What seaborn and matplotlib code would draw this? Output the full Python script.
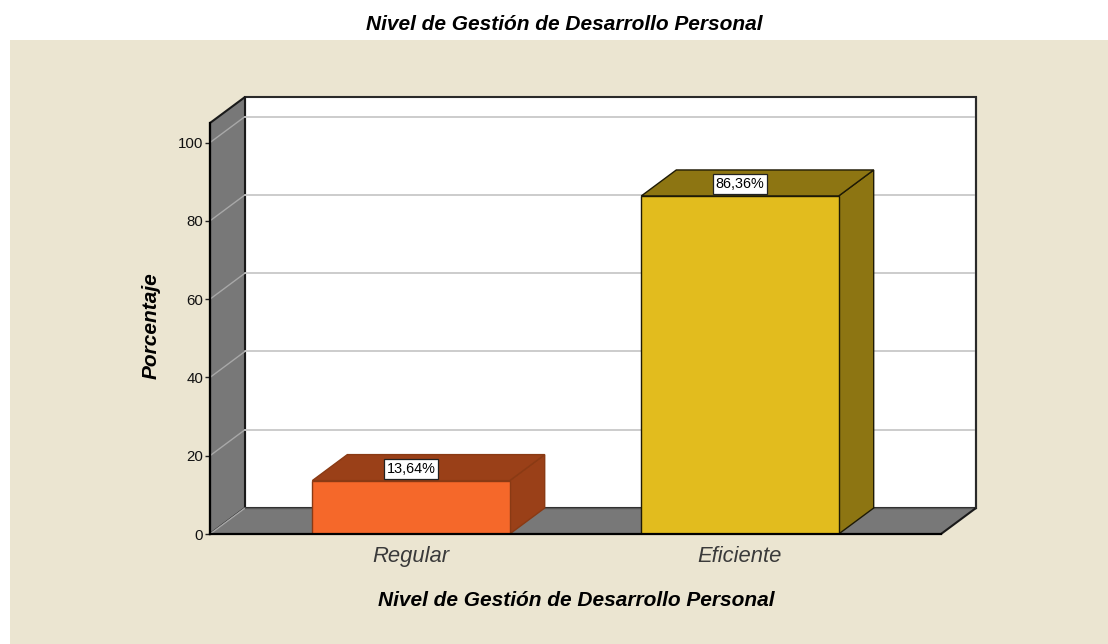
import pandas as pd
import matplotlib.pyplot as plt
import seaborn as sns
from matplotlib.patches import Polygon, Rectangle
from matplotlib.transforms import Affine2D

# values
niveles = ["Regular", "Eficiente"]
porcentajes = [13.64, 86.36]
etiquetas = ["13,64%", "86,36%"]
y_ticks = [0, 20, 40, 60, 80, 100]

titulo = "Nivel de Gestión de Desarrollo Personal"
y_titulo = "Porcentaje"

colores_frente = ["#F5682A", "#E2BC1E"]
colores_lado = ["#9A4018", "#8D7512"]
bordes = ["#8A3A14", "#1E1A05"]
fondo = "#EBE5D1"
pared = "#787878"

# depth of the fake 3d box, in pixels
dx, dy = 35, 26

sns.set_theme(style="white")
plt.rcParams["font.family"] = ["Liberation Sans", "DejaVu Sans"]

df = pd.DataFrame({"Nivel": niveles, "Porcentaje": porcentajes})

fig = plt.figure(figsize=(11.08, 6.44), dpi=100, facecolor="white")
fig.patches.append(Rectangle((10 / 1108, 0), 1098 / 1108, 604 / 644, transform=fig.transFigure,
                             facecolor=fondo, edgecolor="none", zorder=-10))

ax = fig.add_axes([210 / 1108, 110 / 644, 731 / 1108, 411 / 644])
ax.patch.set_visible(False)

sns.barplot(data=df, x="Nivel", y="Porcentaje", hue="Nivel", palette=colores_frente, saturation=1,
            width=0.6, legend=False, ax=ax, zorder=6, edgecolor="black", linewidth=1)

ax.set_xlim(-0.611, 1.611)
ax.set_ylim(0, 105)
x0, x1 = ax.get_xlim()
y0, y1 = ax.get_ylim()

# transform shifted to the back plane
atras = ax.transData + Affine2D().translate(dx, dy)


def cara(puntos, color, borde="none", lw=1.0, z=1):
    # puntos: (x, y, is_back) in data units
    pix = []
    for x, y, back in puntos:
        t = atras if back else ax.transData
        pix.append(t.transform((x, y)))
    ax.add_patch(Polygon(pix, closed=True, transform=None, facecolor=color, edgecolor=borde,
                         linewidth=lw, zorder=z, clip_on=False, joinstyle="miter"))


# back wall, left wall, floor
cara([(x0, y0, 1), (x1, y0, 1), (x1, y1, 1), (x0, y1, 1)], "white", "#2A2A2A", 1.5, 1)
cara([(x0, y0, 0), (x0, y0, 1), (x0, y1, 1), (x0, y1, 0)], pared, "#1A1A1A", 1.5, 2)
cara([(x0, y0, 0), (x0, y0, 1), (x1, y0, 1), (x1, y0, 0)], pared, "none", 1.0, 2)

# gridlines follow the walls
for t in y_ticks:
    a = ax.transData.transform((x0, t))
    b = atras.transform((x0, t))
    c = atras.transform((x1, t))
    ax.plot([a[0], b[0]], [a[1], b[1]], transform=None, color="#A8A8A8", lw=1, zorder=3, clip_on=False)
    if t > 0:
        ax.plot([b[0], c[0]], [b[1], c[1]], transform=None, color="#C8C8C8", lw=1.3, zorder=3, clip_on=False)

# floor edges on top of the grid
b0 = atras.transform((x0, y0))
b1 = atras.transform((x1, y0))
f1 = ax.transData.transform((x1, y0))
ax.plot([b0[0], b1[0]], [b0[1], b1[1]], transform=None, color="#555555", lw=1, zorder=4, clip_on=False)
ax.plot([f1[0], b1[0]], [f1[1], b1[1]], transform=None, color="#1A1A1A", lw=1.5, zorder=4, clip_on=False)
ax.plot([b1[0], b1[0]], [b1[1], atras.transform((x1, y1))[1]], transform=None, color="#2A2A2A", lw=1.5,
        zorder=4, clip_on=False)

# sides and tops of the bars, taken from the drawn bars
for barra, lado, borde, etiqueta in zip(ax.patches, colores_lado, bordes, etiquetas):
    izq, der = barra.get_x(), barra.get_x() + barra.get_width()
    alto = barra.get_height()
    barra.set_edgecolor(borde)
    cara([(der, 0, 0), (der, 0, 1), (der, alto, 1), (der, alto, 0)], lado, borde, 1.0, 5)
    cara([(izq, alto, 0), (izq, alto, 1), (der, alto, 1), (der, alto, 0)], lado, borde, 1.0, 5)
    ax.annotate(etiqueta, xy=(izq + barra.get_width() / 2, alto), xytext=(0, 8.4), textcoords="offset points",
                ha="center", va="center", fontsize=10.4, color="black", zorder=8,
                bbox=dict(boxstyle="square,pad=0.2", facecolor="white", edgecolor="#222222", linewidth=0.9))

sns.despine(ax=ax, top=True, right=True, left=False, bottom=False)
for lado_eje in ["left", "bottom"]:
    ax.spines[lado_eje].set_color("black")
    ax.spines[lado_eje].set_linewidth(1.6)
    ax.spines[lado_eje].set_zorder(7)

ax.set_yticks(y_ticks)
ax.tick_params(axis="y", left=True, length=3.6, width=1, color="#222222", labelsize=10.8, labelcolor="#111111", pad=1.4)
ax.tick_params(axis="x", bottom=False, length=0, labelsize=15.8, labelcolor="#3A3A3A", pad=8.5)
for lab in ax.get_xticklabels():
    lab.set_fontstyle("italic")

ax.set_xlabel(titulo, fontsize=15, fontweight="bold", fontstyle="italic", color="black")
ax.xaxis.set_label_coords(0.5005, -67 / 411, transform=ax.transAxes)
ax.xaxis.label.set_verticalalignment("center")
ax.set_ylabel(y_titulo, fontsize=15, fontweight="bold", fontstyle="italic", color="black")
ax.yaxis.set_label_coords(-59 / 731, 0.506, transform=ax.transAxes)
ax.yaxis.label.set_verticalalignment("center")

fig.text(564.5 / 1108, 1 - 25 / 644, titulo, ha="center", va="center", fontsize=15,
         fontweight="bold", fontstyle="italic", color="black")

plt.savefig("out.png", dpi=100)
plt.close()
